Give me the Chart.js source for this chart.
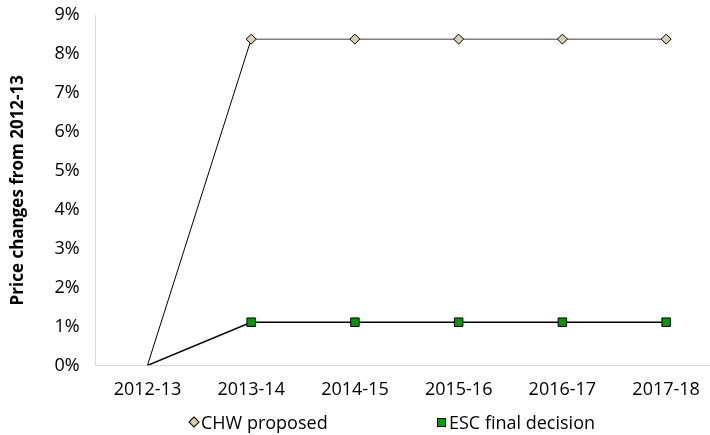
<!DOCTYPE html>
<html>
<head>
<meta charset="utf-8">
<script src="https://cdn.jsdelivr.net/npm/chart.js@4/dist/chart.umd.min.js"></script>
<style>
  html, body { margin: 0; padding: 0; background: #fff; overflow: hidden; }
  #wrap { position: relative; width: 725px; height: 435px; }
  .legend { position: absolute; top: 410px; font-family: 'Open Sans', 'Noto Sans', sans-serif; font-size: 18px; color: #000; white-space: nowrap; }
  .mk { display: inline-block; width: 7px; height: 7px; border: 1px solid #000; margin-right: 3px; vertical-align: middle; position: relative; top: -2px; }
</style>
</head>
<body>
<div id="wrap">
  <canvas id="myChart"></canvas>
  <div class="legend" id="leg1" style="left:190px"><span class="mk" style="background:#d8d0a8;transform:rotate(45deg);width:6px;height:6px"></span>CHW proposed</div>
  <div class="legend" id="leg2" style="left:437px"><span class="mk" style="background:#009900"></span>ESC final decision</div>
</div>
<script>
// Chart data
var years = ['2012-13', '2013-14', '2014-15', '2015-16', '2016-17', '2017-18'];
var chwProposed = [0, 8.38, 8.38, 8.38, 8.38, 8.38];
var escFinal = [0, 1.11, 1.11, 1.11, 1.11, 1.11];
var yTicks = [0, 1, 2, 3, 4, 5, 6, 7, 8, 9];

var font = "'Open Sans', 'Noto Sans', sans-serif";

var ctx = document.getElementById('myChart');
var chart = new Chart(ctx, {
    type: 'line',
    data: {
        labels: years,
        datasets: [{
            label: 'CHW proposed',
            data: chwProposed,
            borderColor: '#7f7f7f',
            borderWidth: 1.5,
            segment: {
                borderColor: function (c) { return c.p0DataIndex === 0 ? '#000' : '#7f7f7f'; },
                borderWidth: function (c) { return c.p0DataIndex === 0 ? 1 : 1.5; }
            },
            pointStyle: 'rectRot',
            pointRadius: [0, 5, 5, 5, 5, 5],
            pointBackgroundColor: '#d8d0a8',
            pointBorderColor: '#000',
            pointBorderWidth: 1,
            tension: 0
        }, {
            label: 'ESC final decision',
            data: escFinal,
            borderColor: '#000',
            borderWidth: 1.5,
            pointStyle: 'rect',
            pointRadius: [0, 6, 6, 6, 6, 6],
            pointBackgroundColor: '#009900',
            pointBorderColor: '#000',
            pointBorderWidth: 1,
            tension: 0
        }]
    },
    options: {
        responsive: true,
        maintainAspectRatio: false,
        animation: false,
        layout: { padding: { top: 15, left: 8, right: 0, bottom: 20 } },
        plugins: {
            legend: { display: false },
            tooltip: { enabled: false }
        },
        scales: {
            x: {
                offset: true,
                grid: { display: false, drawTicks: false },
                border: { color: '#d9d9d9', width: 1 },
                ticks: { color: '#000', padding: 14, font: { family: font, size: 18 } }
            },
            y: {
                min: 0,
                max: 9,
                afterBuildTicks: function (axis) {
                    axis.ticks = yTicks.map(function (v) { return { value: v }; });
                },
                afterFit: function (axis) {
                    axis.paddingTop = 0;
                    axis.paddingBottom = 0;
                },
                grid: { display: false, drawTicks: false },
                border: { color: '#d9d9d9', width: 1 },
                ticks: {
                    color: '#000',
                    padding: 16,
                    font: { family: font, size: 18 },
                    callback: function (v) { return v + '%'; }
                },
                title: {
                    display: true,
                    text: 'Price changes from 2012-13',
                    color: '#000',
                    font: { family: font, size: 17, weight: 'bold' },
                    padding: { top: 0, bottom: 10 }
                }
            }
        }
    }
});
</script>
</body>
</html>
